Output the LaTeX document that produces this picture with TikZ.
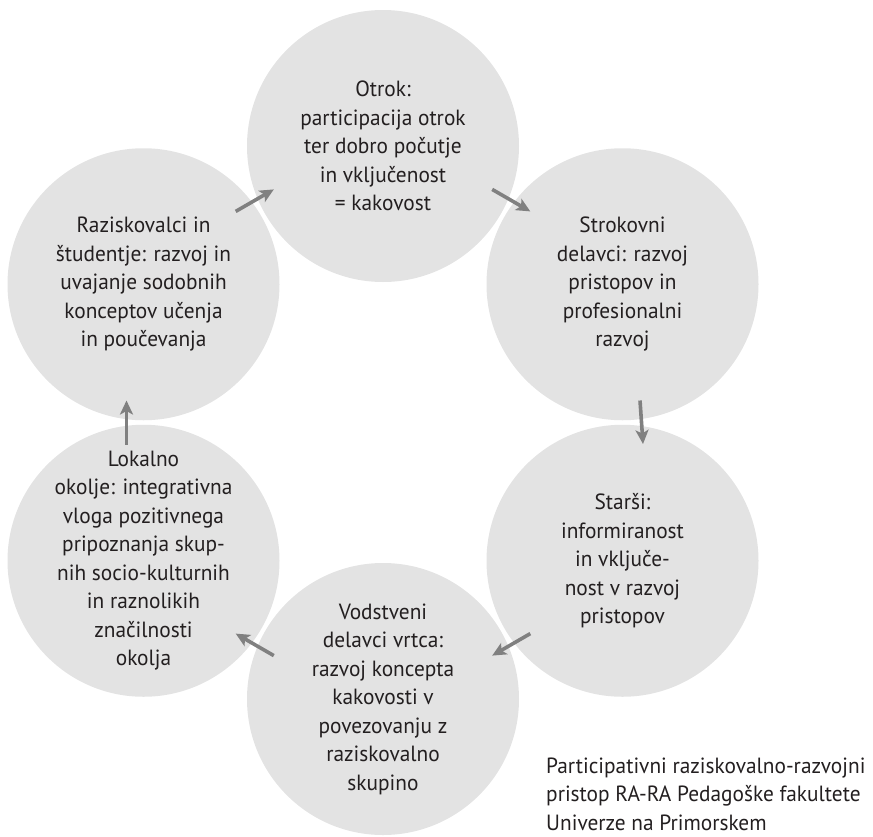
\documentclass[tikz,border=0pt]{standalone}
\usepackage{fontspec}
\setmainfont[FakeStretch=0.97]{PT Sans}
\usetikzlibrary{arrows.meta}
\definecolor{circfill}{HTML}{E3E3E3}
\definecolor{arrgray}{HTML}{808080}
\definecolor{txt}{HTML}{231F20}
\tikzset{
  bubble/.style={circle, fill=circfill, draw=none, minimum size=272pt, inner sep=0pt},
  btext/.style={align=center, text=txt, font=\fontsize{22}{28.5}\selectfont, inner sep=0pt},
  flow/.style={draw=arrgray, line width=3.6pt, -{Stealth[length=14pt,width=13pt,inset=3.5pt]}},
}
\begin{document}
\begin{tikzpicture}[x=1pt,y=-1pt]
\useasboundingbox (0,0) rectangle (873,836);
% circles
\node[bubble] (t)  at (383,146) {};
\node[bubble] (ur) at (622.5,284.25) {};
\node[bubble] (lr) at (622.5,560.75) {};
\node[bubble] (b)  at (383,699) {};
\node[bubble] (ll) at (143.5,560.75) {};
\node[bubble] (ul) at (143.5,284.25) {};
% texts
\node[btext] (tt) at (t.center) {Otrok:\\participacija otrok\\ter dobro počutje\\in vključenost\\= kakovost};
\node[btext] (urt) at (ur.center) {Strokovni\\delavci: razvoj\\pristopov in\\profesionalni\\razvoj};
\node[btext] (lrt) at (lr.center) {Starši:\\informiranost\\in vključe-\\nost v razvoj\\pristopov};
\node[btext] (bt) at (b.center) {Vodstveni\\delavci vrtca:\\razvoj koncepta\\kakovosti v\\povezovanju z\\raziskovalno\\skupino};
\node[btext] (llt) at (ll.center) {Lokalno\\okolje: integrativna\\vloga pozitivnega\\pripoznanja skup-\\nih socio-kulturnih\\in raznolikih\\značilnosti\\okolja};
\node[btext] (ult) at (ul.center) {Raziskovalci in\\študentje: razvoj in\\uvajanje sodobnih\\konceptov učenja\\in poučevanja};
% caption
\node[btext, align=left, anchor=west] (cap) at (546,794) {Participativni raziskovalno-razvojni\\pristop RA-RA Pedagoške fakultete\\Univerze na Primorskem};
% arrow end points
\coordinate (a1s) at (492.2,189.4); \coordinate (a1e) at (530.3,211.4);
\coordinate (a2s) at (640,400.5);   \coordinate (a2e) at (643,444);
\coordinate (a3s) at (530.3,633.6); \coordinate (a3e) at (492.2,655.6);
\coordinate (a4s) at (273.8,655.6); \coordinate (a4e) at (235.7,633.6);
\coordinate (a5s) at (126.5,444.5); \coordinate (a5e) at (126.5,400.5);
\coordinate (a6s) at (235.7,211.4); \coordinate (a6e) at (273.8,189.4);
\draw[flow] (a1s) -- (a1e);
\draw[flow] (a2s) -- (a2e);
\draw[flow] (a3s) -- (a3e);
\draw[flow] (a4s) -- (a4e);
\draw[flow] (a5s) -- (a5e);
\draw[flow] (a6s) -- (a6e);
\end{tikzpicture}
\end{document}
